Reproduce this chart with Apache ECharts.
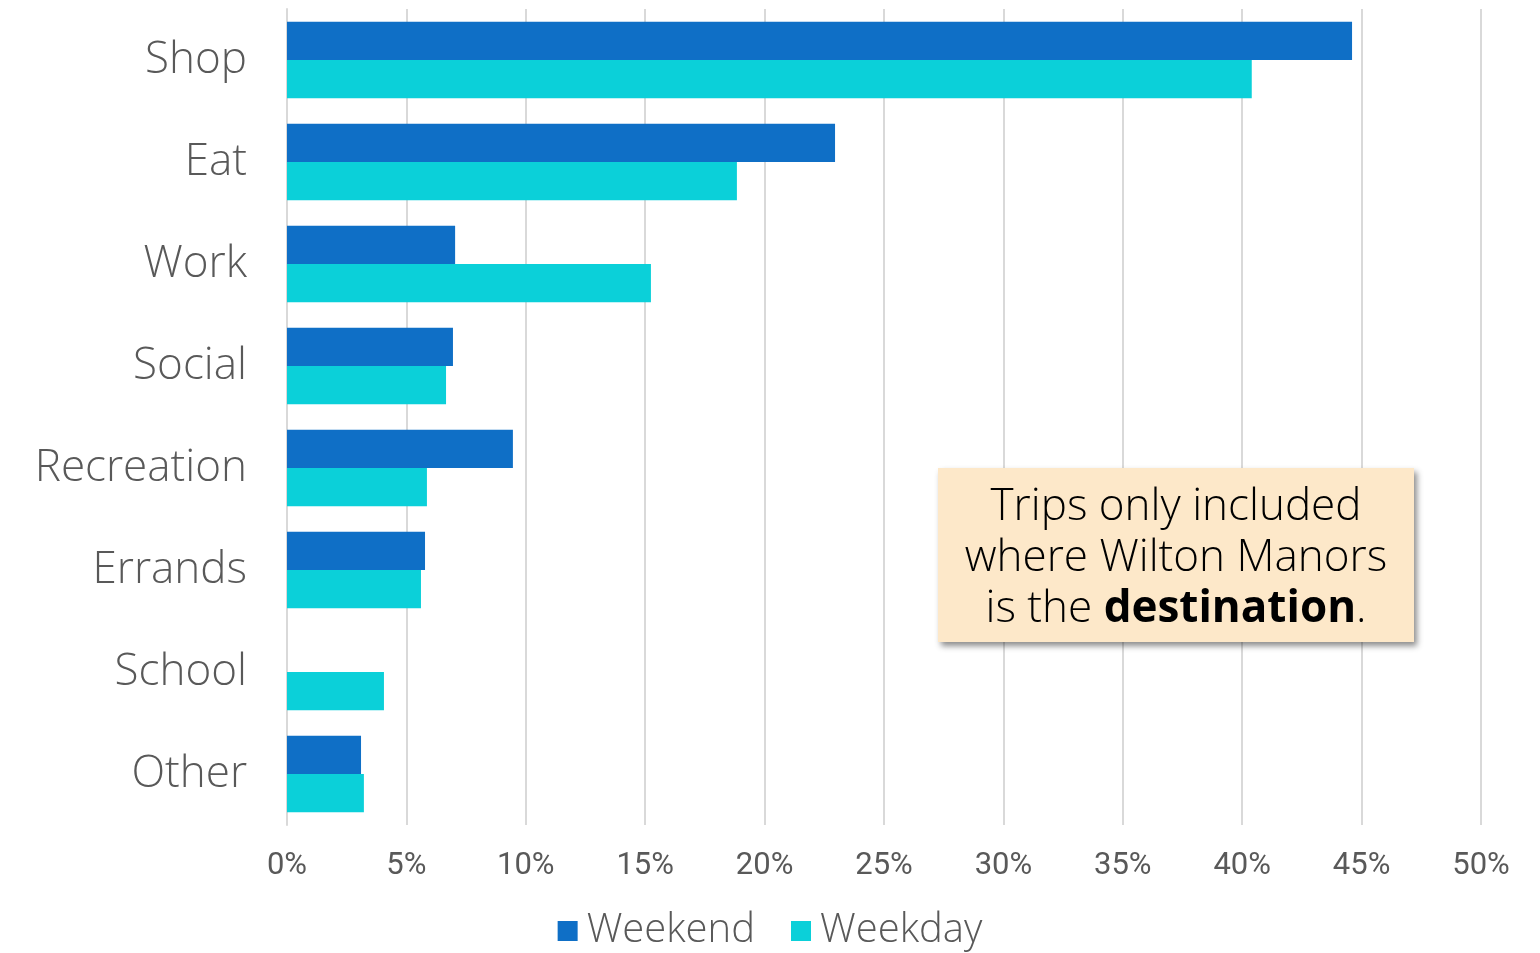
<!DOCTYPE html>
<html><head><meta charset="utf-8">
<script src="https://cdn.jsdelivr.net/npm/echarts@6/dist/echarts.min.js"></script>
<style>html,body{margin:0;padding:0;background:#fff}#c{width:1540px;height:953px}</style>
</head><body><div id="c"></div>
<script>
const categories = ['Shop','Eat','Work','Social','Recreation','Errands','School','Other'];
const weekend = [44.6, 22.95, 7.04, 6.95, 9.46, 5.78, 0, 3.10];
const weekday = [40.4, 18.84, 15.24, 6.66, 5.86, 5.61, 4.06, 3.22];
const seriesNames = ['Weekend','Weekday'];
const xTicks = [0,5,10,15,20,25,30,35,40,45,50];

const chart = echarts.init(document.getElementById('c'));
const fontFam = '"Open Sans", Lato, sans-serif';
chart.setOption({
  animation:false,
  grid:{left:287, right:59, top:9, bottom:128, containLabel:false},
  legend:{top:906, left:'center', itemWidth:20, itemHeight:20, itemGap:36,
    icon:'rect',
    textStyle:{fontSize:40, color:'#595959', fontFamily:fontFam, fontWeight:300, padding:[0,0,0,4]},
    data:seriesNames},
  xAxis:{type:'value', min:xTicks[0], max:xTicks[xTicks.length-1], interval:5,
    axisLine:{show:false}, axisTick:{show:false},
    splitLine:{lineStyle:{color:'#D9D9D9', width:2}},
    axisLabel:{formatter:'{value}%', fontSize:31, color:'#595959', margin:26, fontFamily:'Roboto, sans-serif'}},
  yAxis:{type:'category', data:categories, inverse:true,
    axisLine:{show:true, lineStyle:{color:'#D9D9D9', width:2}}, axisTick:{show:false},
    axisLabel:{fontSize:44, color:'#595959', margin:40, fontFamily:fontFam, fontWeight:300, padding:[4,0,0,0]}},
  series:[
    {name:seriesNames[0], type:'bar', data:weekend, barGap:'0%', barCategoryGap:'25%',
     itemStyle:{color:'#0F6FC6'}},
    {name:seriesNames[1], type:'bar', data:weekday, barGap:'0%', barCategoryGap:'25%',
     itemStyle:{color:'#0BD0D9'}}
  ],
  graphic:[
    {type:'rect', x:938, y:468, shape:{width:476, height:174},
     style:{fill:'#FDE8C9', shadowBlur:6, shadowOffsetX:3, shadowOffsetY:4, shadowColor:'rgba(0,0,0,0.45)'}, z:100},
    {type:'text', x:1176, y:558, z:101,
     style:{text:'Trips only included\nwhere Wilton Manors\nis the {b|destination}.',
       fontSize:44, fontFamily:fontFam, fontWeight:300, fill:'#000', align:'center', verticalAlign:'middle', lineHeight:51,
       rich:{b:{fontWeight:'bold', fontSize:44, fontFamily:fontFam, fill:'#000', lineHeight:51}}}}
  ]
});
</script></body></html>
